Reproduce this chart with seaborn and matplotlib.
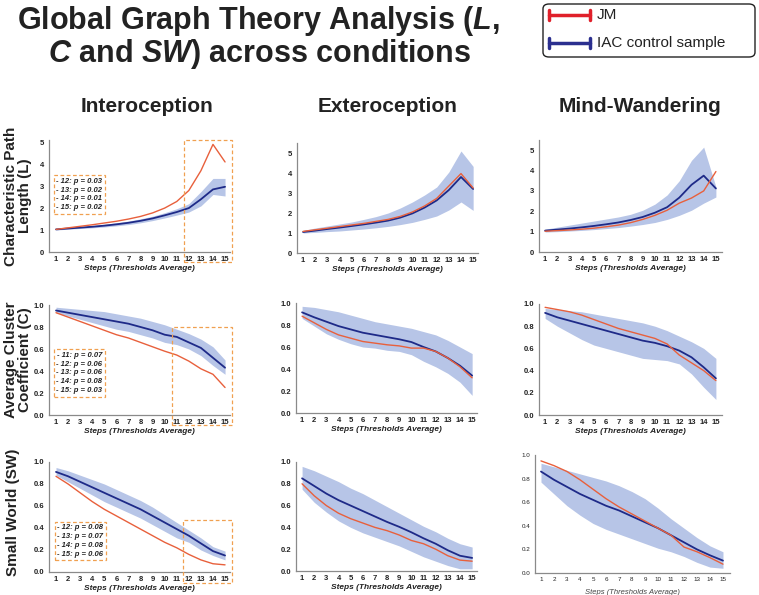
import numpy as np
import pandas as pd
import matplotlib
matplotlib.use("Agg")
import matplotlib.pyplot as plt
import seaborn as sns
from matplotlib.patches import Rectangle, FancyBboxPatch
from matplotlib.lines import Line2D

sns.set_style("white")
plt.rcParams['font.family'] = ['Liberation Sans', 'DejaVu Sans']
plt.rcParams['mathtext.fontset'] = 'custom'
plt.rcParams['mathtext.it'] = 'Liberation Sans:italic:bold'
plt.rcParams['mathtext.rm'] = 'Liberation Sans:bold'
plt.rcParams['mathtext.bf'] = 'Liberation Sans:bold'

steps = list(range(1, 16))
conditions = ["Interoception", "Exteroception", "Mind-Wandering"]
row_labels = ["Characteristic Path\nLength (L)", "Average Cluster\nCoefficient (C)", "Small World (SW)"]

# ---- Characteristic Path Length (L) ----
L_intero_jm = [1.03, 1.10, 1.17, 1.24, 1.32, 1.40, 1.50, 1.62, 1.78, 2.00, 2.30, 2.80, 3.70, 4.90, 4.10]
L_intero_iac = [1.03, 1.07, 1.11, 1.15, 1.20, 1.26, 1.33, 1.42, 1.53, 1.67, 1.82, 2.00, 2.40, 2.85, 2.97]
L_intero_hi = [1.05, 1.10, 1.15, 1.20, 1.26, 1.33, 1.41, 1.51, 1.63, 1.79, 1.97, 2.20, 2.75, 3.35, 3.35]
L_intero_lo = [1.00, 1.04, 1.07, 1.10, 1.14, 1.19, 1.25, 1.33, 1.43, 1.55, 1.68, 1.82, 2.10, 2.62, 2.55]

L_extero_jm = [1.08, 1.16, 1.24, 1.32, 1.40, 1.48, 1.58, 1.68, 1.83, 2.05, 2.35, 2.73, 3.35, 3.97, 3.25]
L_extero_iac = [1.05, 1.12, 1.20, 1.27, 1.35, 1.43, 1.52, 1.62, 1.77, 1.98, 2.27, 2.63, 3.15, 3.80, 3.20]
L_extero_hi = [1.13, 1.25, 1.35, 1.45, 1.55, 1.68, 1.82, 2.00, 2.25, 2.55, 2.90, 3.30, 4.05, 5.10, 4.33]
L_extero_lo = [1.00, 1.03, 1.07, 1.10, 1.15, 1.20, 1.26, 1.33, 1.42, 1.53, 1.68, 1.85, 2.15, 2.55, 2.13]

L_mind_jm = [1.02, 1.05, 1.08, 1.12, 1.17, 1.24, 1.32, 1.44, 1.60, 1.80, 2.05, 2.40, 2.65, 3.00, 3.95]
L_mind_iac = [1.05, 1.10, 1.15, 1.21, 1.28, 1.36, 1.45, 1.57, 1.72, 1.93, 2.20, 2.67, 3.30, 3.75, 3.12]
L_mind_hi = [1.12, 1.22, 1.32, 1.42, 1.52, 1.62, 1.72, 1.85, 2.05, 2.35, 2.80, 3.50, 4.50, 5.15, 3.20]
L_mind_lo = [0.98, 1.00, 1.03, 1.06, 1.10, 1.15, 1.20, 1.27, 1.35, 1.45, 1.60, 1.80, 2.05, 2.40, 2.70]

# ---- Average Cluster Coefficient (C) ----
C_intero_jm = [0.93, 0.89, 0.85, 0.81, 0.77, 0.73, 0.70, 0.66, 0.62, 0.58, 0.545, 0.49, 0.42, 0.37, 0.25]
C_intero_iac = [0.95, 0.93, 0.91, 0.89, 0.87, 0.85, 0.83, 0.80, 0.77, 0.73, 0.71, 0.66, 0.61, 0.52, 0.43]
C_intero_hi = [0.98, 0.97, 0.96, 0.95, 0.94, 0.92, 0.90, 0.88, 0.85, 0.82, 0.78, 0.74, 0.69, 0.62, 0.50]
C_intero_lo = [0.93, 0.90, 0.87, 0.84, 0.81, 0.78, 0.76, 0.73, 0.70, 0.66, 0.64, 0.60, 0.54, 0.45, 0.37]

C_extero_jm = [0.88, 0.82, 0.76, 0.71, 0.68, 0.65, 0.635, 0.62, 0.61, 0.59, 0.59, 0.56, 0.50, 0.42, 0.32]
C_extero_iac = [0.915, 0.87, 0.83, 0.79, 0.76, 0.73, 0.71, 0.69, 0.67, 0.645, 0.60, 0.56, 0.50, 0.43, 0.34]
C_extero_hi = [0.97, 0.96, 0.94, 0.92, 0.89, 0.86, 0.83, 0.81, 0.79, 0.77, 0.74, 0.71, 0.66, 0.60, 0.54]
C_extero_lo = [0.86, 0.79, 0.72, 0.67, 0.63, 0.60, 0.59, 0.57, 0.56, 0.53, 0.47, 0.42, 0.36, 0.28, 0.16]

C_mind_jm = [0.97, 0.95, 0.93, 0.90, 0.86, 0.82, 0.78, 0.75, 0.72, 0.69, 0.64, 0.54, 0.47, 0.40, 0.31]
C_mind_iac = [0.92, 0.88, 0.85, 0.82, 0.79, 0.76, 0.73, 0.70, 0.67, 0.65, 0.62, 0.58, 0.52, 0.43, 0.33]
C_mind_hi = [0.96, 0.95, 0.94, 0.93, 0.91, 0.89, 0.87, 0.85, 0.83, 0.80, 0.76, 0.71, 0.66, 0.60, 0.51]
C_mind_lo = [0.87, 0.80, 0.74, 0.68, 0.63, 0.60, 0.57, 0.54, 0.51, 0.50, 0.49, 0.46, 0.37, 0.25, 0.14]

# ---- Small World (SW) ----
SW_intero_jm = [0.87, 0.80, 0.72, 0.64, 0.57, 0.51, 0.45, 0.39, 0.33, 0.27, 0.22, 0.16, 0.11, 0.075, 0.065]
SW_intero_iac = [0.91, 0.87, 0.82, 0.77, 0.72, 0.67, 0.62, 0.57, 0.51, 0.45, 0.39, 0.33, 0.26, 0.19, 0.15]
SW_intero_hi = [0.95, 0.92, 0.88, 0.84, 0.80, 0.75, 0.70, 0.65, 0.59, 0.52, 0.45, 0.38, 0.31, 0.23, 0.19]
SW_intero_lo = [0.88, 0.82, 0.76, 0.70, 0.64, 0.59, 0.54, 0.49, 0.43, 0.37, 0.31, 0.27, 0.20, 0.15, 0.11]

SW_extero_jm = [0.80, 0.69, 0.60, 0.53, 0.48, 0.44, 0.40, 0.37, 0.33, 0.28, 0.25, 0.20, 0.14, 0.10, 0.09]
SW_extero_iac = [0.85, 0.78, 0.71, 0.65, 0.60, 0.55, 0.50, 0.45, 0.405, 0.355, 0.30, 0.25, 0.19, 0.14, 0.12]
SW_extero_hi = [0.96, 0.92, 0.87, 0.82, 0.76, 0.71, 0.65, 0.59, 0.53, 0.47, 0.41, 0.36, 0.30, 0.25, 0.22]
SW_extero_lo = [0.75, 0.63, 0.54, 0.46, 0.40, 0.35, 0.31, 0.27, 0.23, 0.18, 0.13, 0.09, 0.05, 0.02, 0.02]

SW_mind_jm = [0.95, 0.91, 0.86, 0.79, 0.71, 0.63, 0.56, 0.50, 0.44, 0.38, 0.32, 0.22, 0.18, 0.13, 0.075]
SW_mind_iac = [0.86, 0.79, 0.73, 0.67, 0.62, 0.57, 0.53, 0.48, 0.43, 0.38, 0.32, 0.26, 0.20, 0.15, 0.105]
SW_mind_hi = [0.93, 0.90, 0.87, 0.84, 0.81, 0.78, 0.74, 0.69, 0.63, 0.55, 0.46, 0.38, 0.30, 0.23, 0.18]
SW_mind_lo = [0.77, 0.67, 0.57, 0.49, 0.42, 0.37, 0.33, 0.29, 0.25, 0.21, 0.18, 0.14, 0.09, 0.05, 0.04]

stats_intero_L = ["- 12: p = 0.03", "- 13: p = 0.02", "- 14: p = 0.01", "- 15: p = 0.02"]
stats_intero_C = ["- 11: p = 0.07", "- 12: p = 0.06", "- 13: p = 0.06", "- 14: p = 0.08", "- 15: p = 0.03"]
stats_intero_SW = ["- 12: p = 0.08", "- 13: p = 0.07", "- 14: p = 0.08", "- 15: p = 0.06"]

panels = [
    [(L_intero_jm, L_intero_iac, L_intero_lo, L_intero_hi),
     (L_extero_jm, L_extero_iac, L_extero_lo, L_extero_hi),
     (L_mind_jm, L_mind_iac, L_mind_lo, L_mind_hi)],
    [(C_intero_jm, C_intero_iac, C_intero_lo, C_intero_hi),
     (C_extero_jm, C_extero_iac, C_extero_lo, C_extero_hi),
     (C_mind_jm, C_mind_iac, C_mind_lo, C_mind_hi)],
    [(SW_intero_jm, SW_intero_iac, SW_intero_lo, SW_intero_hi),
     (SW_extero_jm, SW_extero_iac, SW_extero_lo, SW_extero_hi),
     (SW_mind_jm, SW_mind_iac, SW_mind_lo, SW_mind_hi)],
]

RED = "#E8603C"
BLUE = "#1E2A88"
BAND = "#B7C5E7"
ORANGE = "#F0A050"
SPINE = "#8A8A8A"
TXT = "#222222"

W, H = 759, 595
fig = plt.figure(figsize=(W / 100, H / 100), dpi=100)

def px_axes(left, top, right, bottom):
    return fig.add_axes([left / W, 1 - bottom / H, (right - left) / W, (bottom - top) / H])

geo = [
    [((49, 140, 230, 252), (0.42, 15.41)), ((297, 143, 478, 253), (0.5, 15.4)), ((539, 140, 722, 252), (0.5, 15.5))],
    [((49, 305, 230, 415), (0.42, 15.41)), ((296, 303, 477, 413), (0.5, 15.4)), ((539, 304, 722, 415), (0.5, 15.5))],
    [((49, 462, 230, 572), (0.42, 15.41)), ((296, 462, 477, 571), (0.5, 15.4)), ((535, 455, 730, 573), (0.54, 15.54))],
]
ylims = [[(0, 5.1), (0, 5.5), (0, 5.5)], [(0, 1.0), (0, 1.0), (0, 1.0)], [(0, 1.0), (0, 1.0), (0, 1.0)]]

axes = [[None] * 3 for _ in range(3)]
for r in range(3):
    for c in range(3):
        (l, t, rr, b), xl = geo[r][c]
        ax = px_axes(l, t, rr, b)
        axes[r][c] = ax
        jm, iac, lo, hi = panels[r][c]
        df = pd.DataFrame({"step": steps * 2,
                           "value": list(jm) + list(iac),
                           "group": ["JM"] * 15 + ["IAC"] * 15})
        ax.fill_between(steps, lo, hi, color=BAND, lw=0, zorder=1)
        sns.lineplot(data=df[df.group == "IAC"], x="step", y="value", ax=ax,
                     color=BLUE, lw=1.3, zorder=3, legend=False)
        sns.lineplot(data=df[df.group == "JM"], x="step", y="value", ax=ax,
                     color=RED, lw=1.0, zorder=4, legend=False)
        ax.set_xlim(*xl)
        ax.set_ylim(*ylims[r][c])
        small = (r == 2 and c == 2)
        fs = 4.5 if small else 5.5
        ax.set_xticks(steps)
        ax.set_xticklabels([str(s) for s in steps], fontsize=fs, fontweight='normal' if small else 'bold', color=TXT)
        if r == 0:
            ax.set_yticks([0, 1, 2, 3, 4, 5])
            ax.set_yticklabels(["0", "1", "2", "3", "4", "5"])
        else:
            yt = [0.0, 0.2, 0.4, 0.6, 0.8, 1.0]
            ax.set_yticks(yt)
            ax.set_yticklabels([f"{v:.1f}" for v in yt])
        for lab in ax.get_yticklabels():
            lab.set_fontsize(fs)
            lab.set_fontweight('normal' if small else 'bold')
            lab.set_color(TXT)
        ax.tick_params(axis='both', length=2, width=0.6, color=SPINE, pad=1.5, direction='out')
        ax.tick_params(axis='x', length=1.5)
        for s in ["top", "right"]:
            ax.spines[s].set_visible(False)
        for s in ["left", "bottom"]:
            ax.spines[s].set_color(SPINE)
            ax.spines[s].set_linewidth(0.9)
        if small:
            ax.set_xlabel("Steps (Thresholds Average)", fontsize=5.5, style='italic', color="#444444", labelpad=5)
        else:
            ax.set_xlabel("Steps (Thresholds Average)", fontsize=6, style='italic', fontweight='bold', color=TXT, labelpad=1.5)
        ax.set_ylabel("")
        ax.patch.set_alpha(0)

hl = [(11.6, -0.45, 15.58, 5.09), (10.61, -0.09, 15.58, 0.80), (11.52, -0.10, 15.58, 0.473)]
stats = [stats_intero_L, stats_intero_C, stats_intero_SW]
stat_pos = [(0.168, 0.513), (0.168, 0.382), (0.174, 0.282)]
for r in range(3):
    ax = axes[r][0]
    x0, y0, x1, y1 = hl[r]
    ax.add_patch(Rectangle((x0, y0), x1 - x0, y1 - y0, fill=False, ec=ORANGE, lw=0.9,
                           ls=(0, (3, 2)), clip_on=False, zorder=6))
    ax.text(stat_pos[r][0], stat_pos[r][1], "\n".join(stats[r]), transform=ax.transAxes,
            ha='center', va='center', fontsize=5.5, fontweight='bold', style='italic',
            color=TXT, linespacing=1.35, zorder=7,
            bbox=dict(boxstyle='square,pad=0.35', fc='white', ec=ORANGE, lw=0.9, ls=(0, (3, 2))))

col_x = [147, 388, 640]
for c in range(3):
    fig.text(col_x[c] / W, 1 - 107 / H, conditions[c], ha='center', va='center',
             fontsize=15, fontweight='bold', color=TXT)

row_pos = [(18, 196), (18, 360), (13, 512)]
for r in range(3):
    fig.text(row_pos[r][0] / W, 1 - row_pos[r][1] / H, row_labels[r], rotation=90,
             ha='center', va='center', fontsize=11, fontweight='bold', color=TXT,
             multialignment='center', linespacing=1.05)

fig.text(259 / W, 1 - 21 / H, "Global Graph Theory Analysis ($\\mathit{L}$,", ha='center', va='center',
         fontsize=22, fontweight='bold', color=TXT)
fig.text(259 / W, 1 - 54 / H, "$\\mathit{C}$ and $\\mathit{SW)}$ across conditions", ha='center', va='center',
         fontsize=22, fontweight='bold', color=TXT)

box = FancyBboxPatch((543 / W, 1 - 57 / H), (755 - 543) / W, (57 - 4) / H,
                     boxstyle="round,pad=0,rounding_size=0.008", transform=fig.transFigure,
                     fc='white', ec='#222222', lw=1.0)
fig.patches.append(box)
for yy, colr, lab in [(15, "#E0202A", "JM"), (43, "#2B2F8F", "IAC control sample")]:
    fig.add_artist(Line2D([549 / W, 590 / W], [1 - yy / H] * 2, color=colr, lw=2.5, transform=fig.transFigure))
    for xx in (549, 590):
        fig.add_artist(Line2D([xx / W] * 2, [1 - (yy - 5) / H, 1 - (yy + 5) / H], color=colr, lw=2.5,
                              transform=fig.transFigure))
    fig.text(597 / W, 1 - yy / H, lab, ha='left', va='center', fontsize=11, color=TXT)

fig.savefig("out.png", dpi=100)
